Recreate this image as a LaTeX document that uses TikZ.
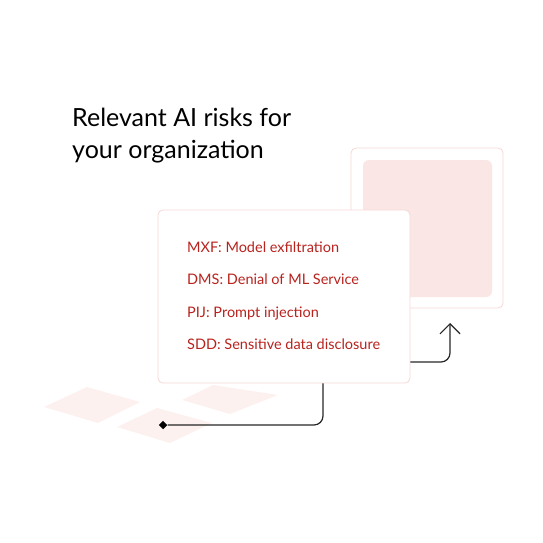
\documentclass[tikz,border=0pt]{standalone}
\usepackage{fontspec}
\setmainfont{Lato}
\usetikzlibrary{arrows.meta,positioning}
\definecolor{riskred}{HTML}{B8231E}
\definecolor{tilepink}{HTML}{FDF1F0}
\definecolor{panelpink}{HTML}{FAE7E5}
\definecolor{edgepink}{HTML}{F5D8D6}
\tikzset{
    card/.style={draw=edgepink, line width=0.8pt, fill=white, rounded corners=5pt, inner sep=0pt},
    risk/.style={anchor=base west, text=riskred, font=\fontsize{14.5}{16}\selectfont, inner sep=0pt},
    wire/.style={draw=black!85, line width=1.2pt, rounded corners=9pt},
    tile/.style={fill=tilepink},
    knob/.style={fill=black, rotate=45, minimum size=6pt, inner sep=0pt}
}
\begin{document}
\begin{tikzpicture}[x=1pt, y=-1pt]
    \useasboundingbox (0,0) rectangle (543,543);

    % 标题
    \node[anchor=base west, inner sep=0pt, align=left, font=\fontsize{25}{32}\selectfont] (title) at (72,158)
        {Relevant AI risks for\\your organization};

    % 底部的浅色方块
    \fill[tile] (44,407) -- (87,387) -- (140,402) -- (98,423) -- cycle;
    \fill[tile] (117,427) -- (157,408) -- (212,423) -- (170,443) -- cycle;
    \fill[tile] (182,400) -- (213,385) -- (278,395) -- (230,414) -- cycle;

    % 后面的卡片
    \node[card, minimum width=152pt, minimum height=160pt] (back) at (427,228) {};
    \fill[panelpink, rounded corners=6pt] (363,160) rectangle (492,297);

    % 前面的卡片
    \node[card, minimum width=252pt, minimum height=173pt] (front) at (284,296.5) {};

    % 风险列表
    \node[risk] (mxf) at (187,252) {MXF: Model exfiltration};
    \node[risk] (dms) at (187,284) {DMS: Denial of ML Service};
    \node[risk] (pij) at (187,317) {PIJ: Prompt injection};
    \node[risk] (sdd) at (187,349) {SDD: Sensitive data disclosure};

    % 连线
    \coordinate (out) at (front.east |- 0,362);
    \coordinate (tip) at (450,323);
    \draw[wire, -{Straight Barb[length=10pt, width=20pt]}] (out) -| (tip);

    \node[knob] (dot) at (163,425) {};
    \coordinate (down) at (front.south -| 323,0);
    \draw[wire] (down) |- (dot);
\end{tikzpicture}
\end{document}
